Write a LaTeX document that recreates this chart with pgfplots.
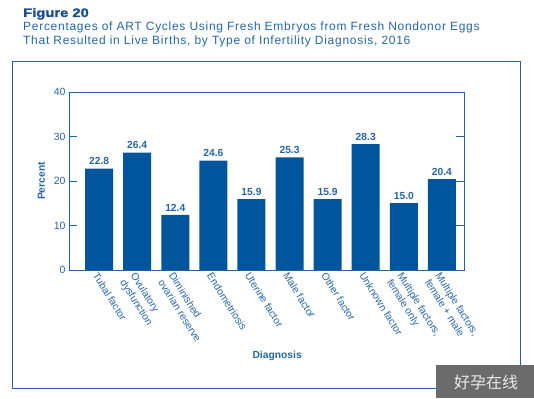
\documentclass[border=0pt]{standalone}
\usepackage{pgfplots}
\pgfplotsset{compat=1.18}
\usepackage{fontspec}
\setmainfont{Liberation Sans}
\newfontfamily\heavyfont[FakeBold=1.4,FakeStretch=1.2]{Liberation Sans Bold}
\newfontfamily\subfont[LetterSpace=6]{Liberation Sans}
\newfontfamily\cjk{Noto Sans CJK SC}
\definecolor{barblue}{HTML}{00559C}
\definecolor{txtblue}{HTML}{2666A8}
\definecolor{darkblue}{HTML}{1A4E8F}
\definecolor{lineblue}{HTML}{2463A3}
\begin{document}
\begin{tikzpicture}[x=1pt,y=1pt]
\fill[white] (0,0) rectangle (534,398);
% title
\node[anchor=base west, inner sep=0pt, text=darkblue, font=\heavyfont\fontsize{12.3}{14}\selectfont] at (23,381) {Figure 20};
\node[anchor=base west, inner sep=0pt, text=txtblue, font=\subfont\fontsize{12}{13}\selectfont] at (23,367) {Percentages of ART Cycles Using Fresh Embryos from Fresh Nondonor Eggs};
\node[anchor=base west, inner sep=0pt, text=txtblue, font=\subfont\fontsize{12}{13}\selectfont] at (23,353) {That Resulted in Live Births, by Type of Infertility Diagnosis, 2016};
% frame
\draw[lineblue, line width=1pt] (12,10) rectangle (520,336);
\begin{axis}[
  at={(69pt,128pt)}, anchor=south west,
  scale only axis, width=395pt, height=178pt,
  xmin=-0.79, xmax=9.58, ymin=0, ymax=40,
  ybar, bar width=28pt,
  axis line style={lineblue, line width=0.8pt},
  ytick={0,10,20,30,40},
  major tick length=8pt,
  tick align=inside,
  ytick style={lineblue, line width=0.8pt},
  xtick={0,...,9}, xtick style={draw=none},
  xticklabels={Tubal factor, Ovulatory\\dysfunction, Diminished\\ovarian reserve, Endometriosis, Uterine factor, Male factor, Other factor, Unknown factor, {Multiple factors,\\female only}, {Multiple factors,\\female + male}},
  xticklabel style={rotate=-58, anchor=north west, align=left, text=txtblue, font=\fontsize{10.3}{12.5}\selectfont, inner sep=1pt},
  yticklabel style={text=txtblue, font=\fontsize{10.5}{12}\selectfont},
  /pgf/number format/assume math mode=true,
  ylabel={Percent}, ylabel style={at={(axis description cs:-0.07,0.5)}, anchor=center, rotate=0, text=txtblue, font=\bfseries\fontsize{10.3}{12}\selectfont},
  xlabel={Diagnosis}, xlabel style={at={(axis description cs:0.527,-0.483)}, anchor=center, text=txtblue, font=\bfseries\fontsize{10.3}{12}\selectfont},
  nodes near coords,
  nodes near coords style={text=txtblue, font=\bfseries\fontsize{10.3}{12}\selectfont, /pgf/number format/.cd, fixed, fixed zerofill, precision=1, assume math mode=true},
  axis on top,
]
\addplot[fill=barblue, draw=none] coordinates {(0,22.8) (1,26.4) (2,12.4) (3,24.6) (4,15.9) (5,25.3) (6,15.9) (7,28.3) (8,15.0) (9,20.4)};
\end{axis}
% watermark
\fill[black!58] (436,0) rectangle (534,33);
\node[text=black!8, font=\cjk\fontsize{16}{18}\selectfont] at (486,16) {好孕在线};
\end{tikzpicture}
\end{document}
